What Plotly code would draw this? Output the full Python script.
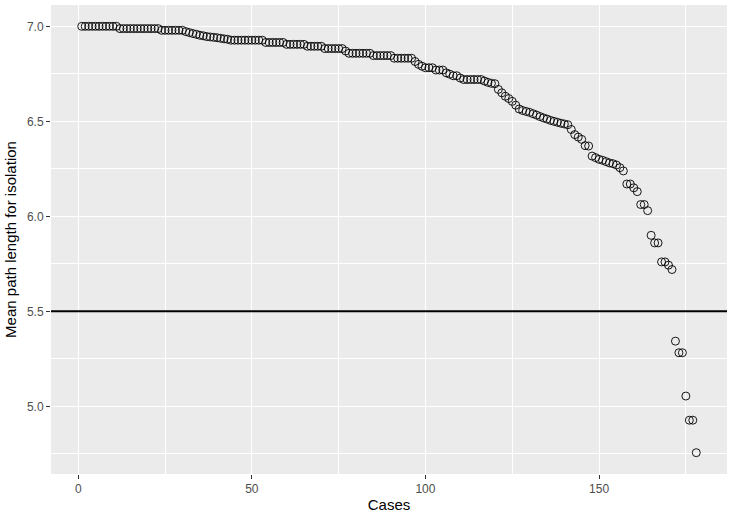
import plotly.graph_objects as go

# x: case index
cases = list(range(1, 179))

# y: mean path length for isolation
path_length = [
    7.000, 7.000, 7.000, 7.000, 7.000, 7.000, 7.000, 7.000, 7.000, 7.000, 7.000,
    6.988, 6.988, 6.988, 6.988, 6.988, 6.988, 6.988, 6.988, 6.988, 6.988, 6.988, 6.988,
    6.979, 6.979, 6.979, 6.979, 6.979, 6.979, 6.979,
    6.972, 6.967, 6.962, 6.958, 6.953, 6.950, 6.946, 6.944, 6.942, 6.940, 6.937, 6.934, 6.932,
    6.927, 6.927, 6.927, 6.927, 6.927, 6.927, 6.927, 6.927, 6.927, 6.927,
    6.915, 6.915, 6.915, 6.915, 6.915, 6.915,
    6.905, 6.905, 6.905, 6.905, 6.905, 6.905,
    6.895, 6.895, 6.895, 6.895, 6.895,
    6.883, 6.883, 6.883, 6.883, 6.883, 6.883,
    6.870,
    6.858, 6.858, 6.858, 6.858, 6.858, 6.858, 6.858,
    6.846, 6.846, 6.846, 6.846, 6.846, 6.846,
    6.832, 6.832, 6.832, 6.832, 6.832, 6.832,
    6.815, 6.800, 6.790,
    6.782, 6.782, 6.782,
    6.770, 6.770, 6.770,
    6.755, 6.748,
    6.740, 6.740,
    6.728, 6.720, 6.720, 6.720, 6.720, 6.720, 6.720,
    6.712, 6.705, 6.700, 6.698, 6.668, 6.650, 6.632, 6.620, 6.605, 6.585,
    6.565, 6.557, 6.552, 6.547, 6.540, 6.533, 6.525, 6.518, 6.512, 6.505,
    6.500, 6.495, 6.490, 6.486, 6.482, 6.457, 6.430, 6.417, 6.405, 6.372,
    6.370, 6.317, 6.309, 6.300, 6.295, 6.288, 6.281, 6.277, 6.270, 6.256,
    6.239, 6.170, 6.170, 6.150, 6.130, 6.062, 6.062, 6.030, 5.900, 5.860,
    5.860, 5.760, 5.760, 5.743, 5.720, 5.343, 5.282, 5.282, 5.054, 4.927,
    4.927, 4.756,
]

threshold = 5.5
x_ticks = [0, 50, 100, 150]
y_ticks = [5.0, 5.5, 6.0, 6.5, 7.0]
y_tick_labels = ["5.0", "5.5", "6.0", "6.5", "7.0"]

FONT = "Liberation Sans, Arial, Helvetica, sans-serif"

fig = go.Figure()
fig.add_trace(go.Scatter(
    x=cases, y=path_length, mode="markers",
    marker=dict(symbol="circle-open", size=8, color="black",
                line=dict(width=0.9, color="black")),
    hoverinfo="x+y", showlegend=False,
))

fig.add_shape(type="line", xref="paper", x0=0, x1=1, yref="y",
              y0=threshold, y1=threshold, line=dict(color="black", width=2))

# axis ranges with ggplot-style 5% expansion
xmin, xmax = min(cases), max(cases)
ymin, ymax = min(path_length), max(path_length)
xpad = (xmax - xmin) * 0.05
ypad = (ymax - ymin) * 0.05

fig.update_layout(
    width=730, height=516,
    margin=dict(l=51, r=3, t=5, b=42, autoexpand=False),
    paper_bgcolor="white", plot_bgcolor="#EBEBEB",
    font=dict(family=FONT, color="#4D4D4D", size=12),
    xaxis=dict(
        range=[xmin - xpad, xmax + xpad], automargin=False,
        tickmode="array", tickvals=x_ticks,
        ticks="outside", ticklen=4, tickwidth=1.1, tickcolor="#333333",
        showgrid=True, gridcolor="white", gridwidth=1.3,
        minor=dict(dtick=25, tick0=25, showgrid=True, gridcolor="white", gridwidth=0.6, ticks=""),
        zeroline=False, showline=False,
        tickfont=dict(size=12, color="#4D4D4D", family=FONT),
        title=dict(text="Cases", font=dict(size=15, color="black", family=FONT), standoff=4),
    ),
    yaxis=dict(
        range=[ymin - ypad, ymax + ypad], automargin=False,
        tickmode="array", tickvals=y_ticks, ticktext=y_tick_labels,
        ticks="outside", ticklen=4, tickwidth=1.1, tickcolor="#333333",
        showgrid=True, gridcolor="white", gridwidth=1.3,
        minor=dict(dtick=0.5, tick0=4.75, showgrid=True, gridcolor="white", gridwidth=0.6, ticks=""),
        zeroline=False, showline=False,
        tickfont=dict(size=12, color="#4D4D4D", family=FONT),
        title=dict(text="Mean path length for isolation", font=dict(size=15, color="black", family=FONT), standoff=6),
    ),
)

fig.write_html("out.html", config={"displayModeBar": False},
               post_script="document.body.style.margin='0';document.body.style.padding='0';")
